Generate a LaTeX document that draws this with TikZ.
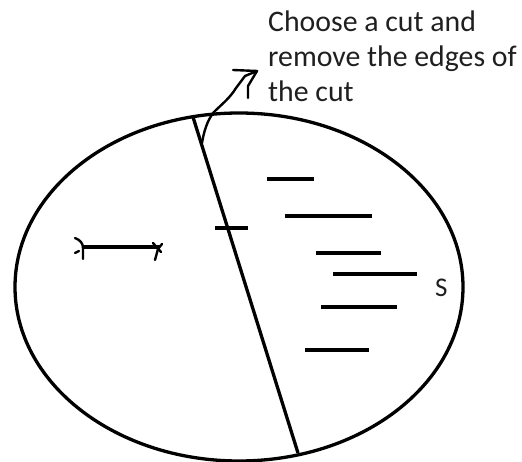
\documentclass[tikz,border=0pt]{standalone}
\usepackage{fontspec}
\setmainfont{Carlito}
\begin{document}
\begin{tikzpicture}[x=1pt,y=-1pt,
  ink/.style={line width=3.3pt,black,line cap=butt,line join=round},
  thin ink/.style={line width=2.4pt,black,line cap=round,line join=round},
  lbl/.style={inner sep=0pt,anchor=base west,text=black!88,font=\fontsize{29.8}{35}\selectfont}]
\useasboundingbox (0,0) rectangle (522,462);
% set boundary
\draw[ink] (239,287) ellipse [x radius=224pt, y radius=174pt];
% the cut
\coordinate (ct) at (193,117);
\coordinate (cb) at (298,453);
\draw[ink] (ct) -- (cb);
% edge crossing the cut
\coordinate (xa) at (215,228);
\coordinate (xb) at (248,228);
\draw[ink] (xa) -- (xb);
% edge on the left side
\coordinate (ea) at (83,247);
\coordinate (eb) at (160,247);
\draw[ink] (ea) -- (eb);
\draw[thin ink] (75,238) .. controls (80,240) and (83,243) .. (83,248) -- (83,259);
\draw[thin ink] (75,253) -- (79,251);
\draw[thin ink] (153,243) -- (161,252);
\draw[thin ink] (162,244) -- (158,249) -- (155,260);
% edges inside S
\coordinate (a1) at (267,179); \coordinate (b1) at (314,179);
\coordinate (a2) at (285,216); \coordinate (b2) at (372,216);
\coordinate (a3) at (316,253); \coordinate (b3) at (381,253);
\coordinate (a4) at (333,274); \coordinate (b4) at (417,274);
\coordinate (a5) at (321,307); \coordinate (b5) at (397,307);
\coordinate (a6) at (305,350); \coordinate (b6) at (369,350);
\foreach \i in {1,...,6} \draw[ink] (a\i) -- (b\i);
% pointer from the cut to the text
\coordinate (pt) at (202,143);
\coordinate (tip) at (257,71);
\draw[thin ink] (pt) .. controls (205,125) and (210,117) .. (214,112)
  .. controls (222,104) and (230,98) .. (236,88) -- (245,76) -- (tip);
\draw[thin ink] (233,70) -- (tip) -- (251,81) -- (248,86) -- (248,98);
% labels
\node[lbl] (l1) at (268,32) {Choose a cut and};
\node[lbl] (l2) at (268,67) {remove the edges of};
\node[lbl] (l3) at (268,102) {the cut};
\node[lbl,font=\fontsize{27}{32}\selectfont] (s) at (435,297) {S};
\end{tikzpicture}
\end{document}
